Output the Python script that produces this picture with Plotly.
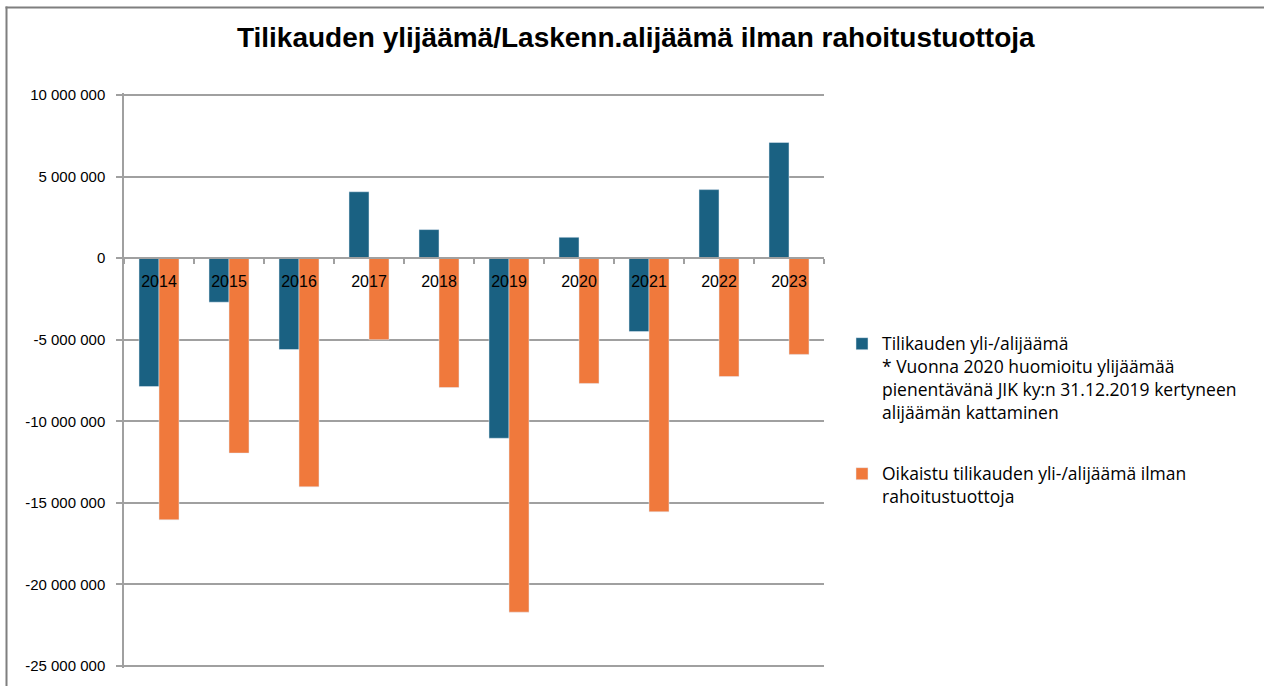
import plotly.graph_objects as go

years = ["2014", "2015", "2016", "2017", "2018", "2019", "2020", "2021", "2022", "2023"]
tilikauden = [-7.87e6, -2.70e6, -5.60e6, 4.07e6, 1.75e6, -11.04e6, 1.28e6, -4.50e6, 4.20e6, 7.09e6]
oikaistu = [-16.04e6, -11.95e6, -14.02e6, -5.00e6, -7.93e6, -21.70e6, -7.68e6, -15.55e6, -7.26e6, -5.90e6]
y_tick_vals = [10e6, 5e6, 0, -5e6, -10e6, -15e6, -20e6, -25e6]
y_tick_text = ["10 000 000", "5 000 000", "0", "-5 000 000", "-10 000 000",
               "-15 000 000", "-20 000 000", "-25 000 000"]

name1 = ("Tilikauden yli-/alijäämä<br>* Vuonna 2020 huomioitu ylijäämää<br>"
         "pienentävänä JIK ky:n 31.12.2019 kertyneen<br>alijäämän kattaminen")
name2 = "Oikaistu tilikauden yli-/alijäämä ilman<br>rahoitustuottoja"
title_text = "Tilikauden ylijäämä/Laskenn.alijäämä ilman rahoitustuottoja"

BLUE = "#1a6182"
ORANGE = "#f0793c"
GRID = "#a0a0a0"

fig = go.Figure()
fig.add_trace(go.Bar(x=years, y=tilikauden, name=name1, marker_color=BLUE,
                     legendgroup="a"))
fig.add_trace(go.Bar(x=years, y=oikaistu, name=name2, marker_color=ORANGE,
                     legendgroup="b"))

W, H = 1264, 686
ml, mr, mt, mb = 124, 440, 93, 15
pw, ph = W - ml - mr, H - mt - mb

def px_x(p):
    return (p - ml) / pw

def px_y(p):
    return (H - mb - p) / ph

# small padding (about 2 px) so the gridlines at -25M and 10M are drawn
ymin, ymax = -25.122e6, 10.122e6

fig.update_layout(
    width=W, height=H,
    margin=dict(l=ml, r=mr, t=mt, b=mb, pad=0),
    paper_bgcolor="white", plot_bgcolor="white",
    barmode="group", bargap=0.4286, bargroupgap=0,
    font=dict(family="Liberation Sans, Arial, sans-serif", color="#000000"),
    title=dict(text="<b>" + title_text + "</b>", xref="container", x=0.503,
               xanchor="center", yref="container", y=1 - 37 / H, yanchor="middle",
               font=dict(family="Liberation Sans, Arial, sans-serif", size=28,
                         color="#000000")),
    legend=dict(x=px_x(842), y=px_y(327), xanchor="left", yanchor="top",
                xref="paper", yref="paper", valign="top",
                traceorder="grouped", tracegroupgap=36,
                font=dict(family="Open Sans, sans-serif", size=17.5, color="#000000"),
                bgcolor="rgba(0,0,0,0)"),
    xaxis=dict(type="category", anchor="free", position=(0 - ymin) / (ymax - ymin),
               showline=True, linecolor=GRID, linewidth=1.5,
               ticks="outside", tickson="boundaries", ticklen=5, tickcolor=GRID,
               tickwidth=1.5, showgrid=False,
               tickfont=dict(size=16, color="#000000"), ticklabelstandoff=9),
    yaxis=dict(range=[ymin, ymax], tickvals=y_tick_vals, ticktext=y_tick_text,
               showline=True, linecolor=GRID, linewidth=1.5,
               showgrid=True, gridcolor=GRID, gridwidth=1.5, zeroline=False,
               ticks="outside", ticklen=6, tickcolor=GRID, tickwidth=1.5,
               ticklabelstandoff=8,
               tickfont=dict(size=15, color="#000000")),
    shapes=[
        dict(type="line", xref="paper", yref="paper", x0=px_x(6.5), x1=px_x(6.5),
             y0=px_y(6), y1=px_y(H + 10), line=dict(color="#7f7f7f", width=2)),
        dict(type="line", xref="paper", yref="paper", x0=px_x(5.5), x1=px_x(W + 5),
             y0=px_y(7), y1=px_y(7), line=dict(color="#7f7f7f", width=2)),
    ],
)

fig.write_html("out.html",
               config={"displayModeBar": False},
               post_script="document.body.style.margin='0';"
                           "document.body.style.overflow='hidden';")
